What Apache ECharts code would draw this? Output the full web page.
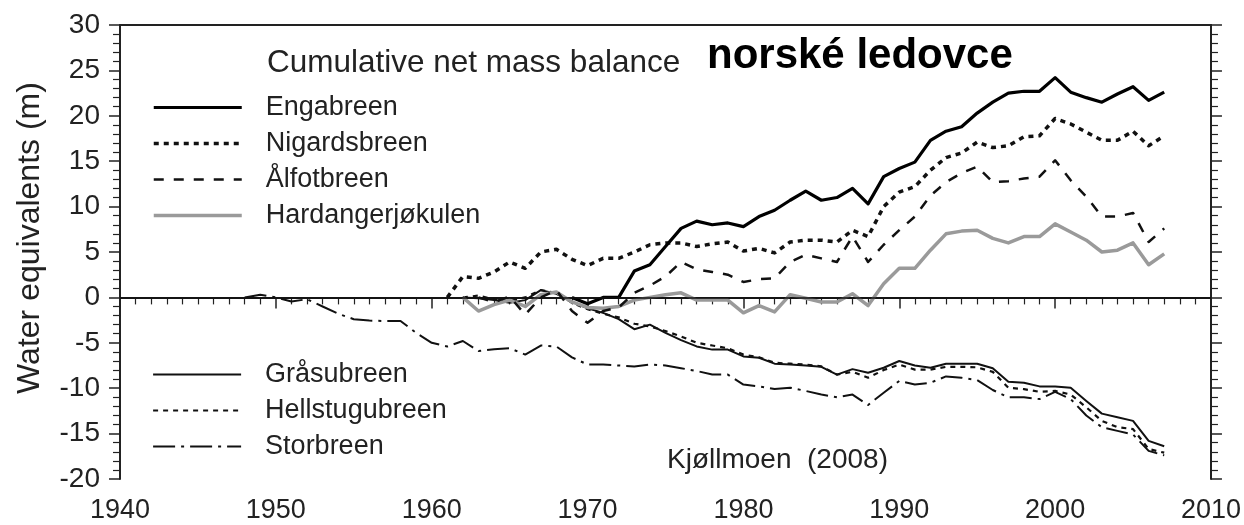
<!DOCTYPE html>
<html>
<head>
<meta charset="utf-8">
<script src="https://cdn.jsdelivr.net/npm/echarts@6/dist/echarts.min.js"></script>
<style>
  html, body { margin: 0; padding: 0; background: #fff; }
  #chart { width: 1244px; height: 525px; }
</style>
</head>
<body>
<div id="chart"></div>
<script>
// Cumulative net mass balance (m water equivalent), one value per year from the start year
const engabreenStart = 1969;
const engabreen = [0, -0.7, 0, 0, 2.9, 3.6, 5.6, 7.6, 8.4, 8.0, 8.2, 7.8, 8.9, 9.6, 10.7, 11.7, 10.7, 11.0, 12.0, 10.3,
  13.3, 14.2, 14.9, 17.3, 18.3, 18.8, 20.3, 21.5, 22.5, 22.7, 22.7, 24.2, 22.6, 22.0, 21.5, 22.4, 23.2, 21.7, 22.6];

const nigardsbreenStart = 1961;
const nigardsbreen = [0, 2.3, 2.1, 2.8, 3.9, 3.2, 5.0, 5.3, 4.2, 3.5, 4.3, 4.3, 5.0, 5.8, 6.0, 6.0, 5.6, 5.9, 6.1, 5.1,
  5.4, 4.9, 6.1, 6.3, 6.3, 6.1, 7.4, 6.7, 10.0, 11.6, 12.2, 14.0, 15.4, 15.9, 17.1, 16.5, 16.7, 17.7, 17.8, 19.7,
  19.1, 18.2, 17.3, 17.3, 18.3, 16.7, 17.8];

const alfotbreenStart = 1963;
const alfotbreen = [0, -0.5, 0.1, -1.9, 0, 0.8, -1.5, -2.8, -1.5, -1.1, 0.5, 1.3, 2.3, 3.9, 3.1, 2.8, 2.5, 1.7, 2.0, 2.1,
  3.9, 4.7, 4.3, 3.9, 6.7, 3.9, 5.8, 7.4, 8.9, 11.2, 12.7, 13.7, 14.4, 12.7, 12.8, 13.1, 13.3, 15.1, 12.9, 11.1,
  8.9, 8.9, 9.3, 6.1, 7.6];

const hardangerStart = 1962;
const hardanger = [0, -1.5, -0.8, -0.3, -1.0, 0.3, 0.6, -0.5, -1.1, -1.2, -1.0, -0.3, 0.0, 0.3, 0.5, -0.3, -0.3, -0.3,
  -1.7, -0.9, -1.6, 0.3, -0.1, -0.5, -0.5, 0.4, -0.9, 1.5, 3.2, 3.2, 5.2, 7.0, 7.3, 7.4, 6.5, 6.0, 6.7, 6.7, 8.1,
  7.2, 6.3, 5.0, 5.2, 6.0, 3.6, 4.8];

const grasubreenStart = 1962;
const grasubreen = [0, -0.1, -0.3, -0.6, -0.3, 0.8, 0.4, -0.5, -1.2, -1.7, -2.4, -3.5, -3.0, -3.9, -4.7, -5.4, -5.75,
  -5.75, -6.5, -6.65, -7.3, -7.4, -7.5, -7.65, -8.5, -7.9, -8.3, -7.75, -7.0, -7.5, -7.75, -7.3, -7.3, -7.3, -7.8,
  -9.3, -9.4, -9.8, -9.8, -9.95, -11.4, -12.8, -13.2, -13.6, -15.8, -16.4];

const hellstugubreenStart = 1962;
const hellstugubreen = [0, 0.2, -0.2, -0.4, 0, 0.8, 0.5, -0.6, -1.3, -1.8, -2.2, -2.9, -3.2, -3.7, -4.3, -5.0, -5.3,
  -5.6, -6.3, -6.6, -7.2, -7.3, -7.4, -7.6, -8.5, -8.2, -8.85, -8.0, -7.4, -7.95, -7.95, -7.65, -7.65, -7.7, -8.2,
  -9.95, -10.1, -10.4, -10.3, -10.7, -12.1, -13.6, -14.3, -14.5, -16.7, -17.1];

const storbreenStart = 1948;
const storbreen = [0, 0.3, 0.0, -0.45, -0.2, -1.0, -1.8, -2.4, -2.55, -2.6, -2.6, -3.9, -5.0, -5.4, -4.8, -5.9, -5.7,
  -5.6, -6.3, -5.3, -5.4, -6.6, -7.4, -7.4, -7.5, -7.6, -7.4, -7.5, -7.8, -8.1, -8.5, -8.5, -9.6, -9.8, -10.1,
  -9.95, -10.3, -10.7, -11.0, -10.7, -11.85, -10.5, -9.2, -9.6, -9.4, -8.7, -8.85, -9.1, -10.2, -11.0, -11.0,
  -11.2, -10.4, -11.2, -13.0, -14.3, -14.7, -15.1, -16.9, -17.4];

const groupNorth = ['Engabreen', 'Nigardsbreen', 'Ålfotbreen', 'Hardangerjøkulen'];
const groupSouth = ['Gråsubreen', 'Hellstugubreen', 'Storbreen'];

const titleText = 'Cumulative net mass balance';
const headline = 'norské ledovce';
const sourceText = 'Kjøllmoen  (2008)';
const yAxisTitle = 'Water equivalents (m)';

const FONT = '"Liberation Sans", Arial, Helvetica, sans-serif';

function pairs(start, values) {
  return values.map((v, i) => [start + i, v]);
}

function lineSeries(name, start, values, color, width, type, extra) {
  return Object.assign({
    name: name,
    type: 'line',
    data: pairs(start, values),
    showSymbol: false,
    symbol: 'none',
    smooth: false,
    silent: true,
    animation: false,
    lineStyle: { color: color, width: width, type: type, cap: 'butt', join: 'round' },
    itemStyle: { color: color }
  }, extra || {});
}

function legendBlock(names, top) {
  return {
    data: names, orient: 'vertical', left: 147, top: top,
    itemWidth: 88, itemHeight: 20, itemGap: 9, selectedMode: false,
    itemStyle: { opacity: 0, borderWidth: 0 },
    lineStyle: { width: 'inherit' },
    textStyle: { fontFamily: FONT, fontSize: 27, color: '#222', padding: [0, 0, 0, 19] }
  };
}

const axisColor = '#222';
const tickMajor = { show: true, inside: false, length: 11, lineStyle: { color: axisColor, width: 1.5 } };
const tickMinor = { show: true, length: 7, lineStyle: { color: axisColor, width: 1.2 } };

const chart = echarts.init(document.getElementById('chart'), null, { renderer: 'canvas' });

chart.setOption({
  backgroundColor: '#fff',
  animation: false,
  textStyle: { fontFamily: FONT },
  title: [
    { text: titleText, left: 262, top: 42, textStyle: { fontFamily: FONT, fontSize: 31.5, fontWeight: 'normal', color: '#222' } },
    { text: headline, left: 702, top: 30, textStyle: { fontFamily: FONT, fontSize: 42, fontWeight: 'bold', color: '#000' } },
    { text: sourceText, left: 662, top: 441, textStyle: { fontFamily: FONT, fontSize: 28, fontWeight: 'normal', color: '#222' } }
  ],
  graphic: [
    {
      type: 'text', silent: true,
      rotation: Math.PI / 2,
      x: 30, y: 238,
      style: { text: yAxisTitle, fontFamily: FONT, fontSize: 32, fill: '#222', align: 'center', verticalAlign: 'middle' }
    }
  ],
  legend: [legendBlock(groupNorth, 89), legendBlock(groupSouth, 356)],
  grid: { left: 120, right: 32, top: 25, bottom: 46, containLabel: false },
  xAxis: [
    {
      type: 'value', min: 1940, max: 2010, interval: 10, position: 'bottom',
      axisLine: { show: true, lineStyle: { color: axisColor, width: 2 } },
      axisTick: tickMajor,
      minorTick: Object.assign({ splitNumber: 10 }, tickMinor),
      axisLabel: { fontFamily: FONT, fontSize: 27, color: '#222', margin: 18, formatter: v => String(v) },
      splitLine: { show: false }
    },
    {
      type: 'value', min: 1940, max: 2010, interval: 10, position: 'top',
      axisLine: { show: true, onZero: false, lineStyle: { color: axisColor, width: 2 } },
      axisTick: { show: false }, axisLabel: { show: false }, splitLine: { show: false }
    }
  ],
  yAxis: [
    {
      type: 'value', min: -20, max: 30, interval: 5, position: 'left',
      axisLine: { show: true, onZero: false, lineStyle: { color: axisColor, width: 2 } },
      axisTick: tickMajor,
      minorTick: Object.assign({ splitNumber: 5 }, tickMinor),
      axisLabel: { fontFamily: FONT, fontSize: 28, color: '#222', margin: 20 },
      splitLine: { show: false }
    },
    {
      type: 'value', min: -20, max: 30, interval: 5, position: 'right',
      axisLine: { show: true, onZero: false, lineStyle: { color: axisColor, width: 2 } },
      axisTick: tickMajor,
      minorTick: Object.assign({ splitNumber: 5 }, tickMinor),
      axisLabel: { show: false },
      splitLine: { show: false }
    }
  ],
  series: [
    lineSeries('Storbreen', storbreenStart, storbreen, '#111', 2, [22, 6, 3, 6], {
      markLine: {
        silent: true, symbol: 'none', animation: false,
        label: { show: false },
        lineStyle: { color: '#111', width: 1.5, type: 'solid' },
        data: [{ yAxis: 0 }]
      }
    }),
    lineSeries('Hellstugubreen', hellstugubreenStart, hellstugubreen, '#111', 2.2, [5, 5]),
    lineSeries('Gråsubreen', grasubreenStart, grasubreen, '#111', 2),
    lineSeries('Hardangerjøkulen', hardangerStart, hardanger, '#9a9a9a', 3.5),
    lineSeries('Ålfotbreen', alfotbreenStart, alfotbreen, '#111', 2.5, [10, 10]),
    lineSeries('Nigardsbreen', nigardsbreenStart, nigardsbreen, '#111', 3.5, [5, 5]),
    lineSeries('Engabreen', engabreenStart, engabreen, '#000', 3.2)
  ]
});
</script>
</body>
</html>
